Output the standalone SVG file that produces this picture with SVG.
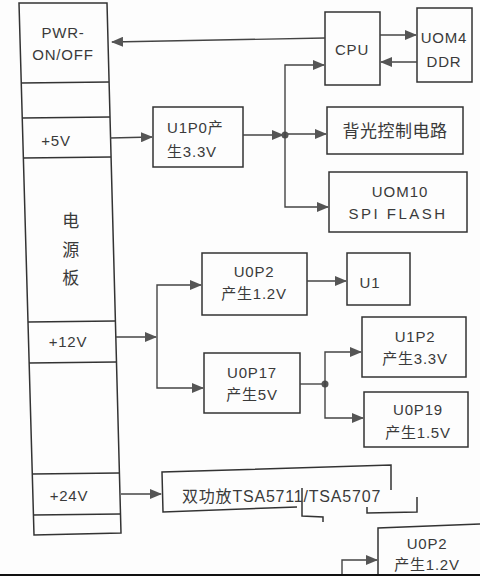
<svg xmlns="http://www.w3.org/2000/svg" width="480" height="576" viewBox="0 0 480 576">
<style>
.box{fill:none;stroke:#333;stroke-width:1.5}
.ln{fill:none;stroke:#444;stroke-width:1.4}
.arr{fill:none;stroke:#444;stroke-width:1.4;marker-end:url(#ah)}
.t{font-family:"Liberation Sans","Noto Sans CJK SC",sans-serif;font-size:15px;fill:#3a3a3a;text-anchor:middle;letter-spacing:0.8px}
.tl{text-anchor:start}
.big{font-size:17px;letter-spacing:0.5px}
</style>
<defs>
<marker id="ah" markerWidth="12" markerHeight="10" refX="11" refY="5" orient="auto" markerUnits="userSpaceOnUse">
<path d="M0,0 L12,5 L0,10 Z" fill="#555"/>
</marker>
</defs>
<rect width="480" height="576" fill="#fdfdfd"/>

<g id="power-board">
<path class="box" d="M19,3 L107,3 L121,533 L34,535 Z"/>
<line class="box" x1="21" y1="83" x2="109" y2="82"/>
<line class="box" x1="22" y1="118" x2="110" y2="117"/>
<line class="box" x1="23" y1="158" x2="111" y2="157"/>
<line class="box" x1="28" y1="322" x2="115" y2="321"/>
<line class="box" x1="29" y1="363" x2="116" y2="362"/>
<line class="box" x1="32" y1="474" x2="119" y2="473"/>
<line class="box" x1="33" y1="515" x2="120" y2="514"/>
<text class="t" x="63" y="38">PWR-</text>
<text class="t" x="63" y="60">ON/OFF</text>
<text class="t" x="56" y="146">+5V</text>
<text class="t big" x="71" y="227">电</text>
<text class="t big" x="71" y="256">源</text>
<text class="t big" x="71" y="284">板</text>
<text class="t" x="68" y="347">+12V</text>
<text class="t" x="69" y="501">+24V</text>
</g>

<g id="cpu">
<rect class="box" x="325" y="12" width="55" height="73"/>
<text class="t" x="352" y="55">CPU</text>
</g>

<g id="ddr">
<rect class="box" x="417" y="8" width="55" height="74"/>
<text class="t" x="444" y="43">UOM4</text>
<text class="t" x="444" y="67">DDR</text>
</g>

<g id="u1p0">
<rect class="box" x="153" y="107" width="90" height="60"/>
<text class="t tl" x="167" y="133">U1P0产</text>
<text class="t tl" x="167" y="157">生3.3V</text>
</g>

<g id="backlight">
<rect class="box" x="327" y="107" width="136" height="47"/>
<text class="t big" x="395" y="137">背光控制电路</text>
</g>

<g id="spi-flash">
<rect class="box" x="329" y="172" width="138" height="60"/>
<text class="t" x="400" y="197" style="letter-spacing:1px">UOM10</text>
<text class="t" x="398" y="219" style="letter-spacing:2.5px">SPI FLASH</text>
</g>

<g id="u0p2">
<rect class="box" x="202" y="253" width="105" height="62"/>
<text class="t" x="254" y="277">U0P2</text>
<text class="t" x="254" y="299">产生1.2V</text>
</g>

<g id="u1">
<rect class="box" x="347" y="253" width="63" height="52"/>
<text class="t" x="370" y="288">U1</text>
</g>

<g id="u0p17">
<rect class="box" x="204" y="353" width="96" height="60"/>
<text class="t" x="252" y="378">U0P17</text>
<text class="t" x="252" y="400">产生5V</text>
</g>

<g id="u1p2">
<rect class="box" x="362" y="317" width="104" height="60"/>
<text class="t" x="415" y="342">U1P2</text>
<text class="t" x="415" y="364">产生3.3V</text>
</g>

<g id="u0p19">
<rect class="box" x="364" y="392" width="104" height="55"/>
<text class="t" x="418" y="415">U0P19</text>
<text class="t" x="418" y="438">产生1.5V</text>
</g>

<g id="amp">
<path class="box" d="M391,490 L391,465 L162,472 L163,512 L297,507"/>
<path class="box" d="M302,488 L302,516 L323,517 L323,522"/>
<path class="box" d="M367,507 L367,513 L417,512 L417,497"/>
<text class="t tl" x="182" y="502" style="font-size:16px">双功放TSA5711/TSA5707</text>
</g>

<g id="u0p2-b">
<path class="box" d="M378,576 L378,528 L480,524"/>
<text class="t" x="427" y="549">U0P2</text>
<text class="t" x="427" y="570">产生1.2V</text>
</g>

<g id="connectors">
<path class="arr" d="M325,38 L112,42"/>
<path class="arr" d="M380,35 L416,35"/>
<path class="arr" d="M417,62 L381,62"/>
<path class="arr" d="M110,138 L152,137"/>
<path class="arr" d="M243,135 L283,135"/>
<circle cx="285" cy="135" r="3.5" fill="#555"/>
<path class="arr" d="M285,135 L285,65 L324,65"/>
<path class="arr" d="M288,134 L326,134"/>
<path class="arr" d="M285,135 L285,207 L328,207"/>
<path class="arr" d="M116,337 L156,337"/>
<path class="arr" d="M157,337 L157,285 L201,285"/>
<path class="arr" d="M157,337 L157,388 L203,388"/>
<path class="arr" d="M307,281 L346,281"/>
<path class="ln" d="M300,384 L325,384"/>
<circle cx="325" cy="384" r="3.5" fill="#555"/>
<path class="arr" d="M325,384 L325,352 L361,352"/>
<path class="arr" d="M325,384 L325,418 L363,418"/>
<path class="arr" d="M121,494 L161,494"/>
<path class="arr" d="M342,576 L342,560 L377,560"/>
</g>
<rect x="0" y="574" width="480" height="2" fill="#111"/>
</svg>
